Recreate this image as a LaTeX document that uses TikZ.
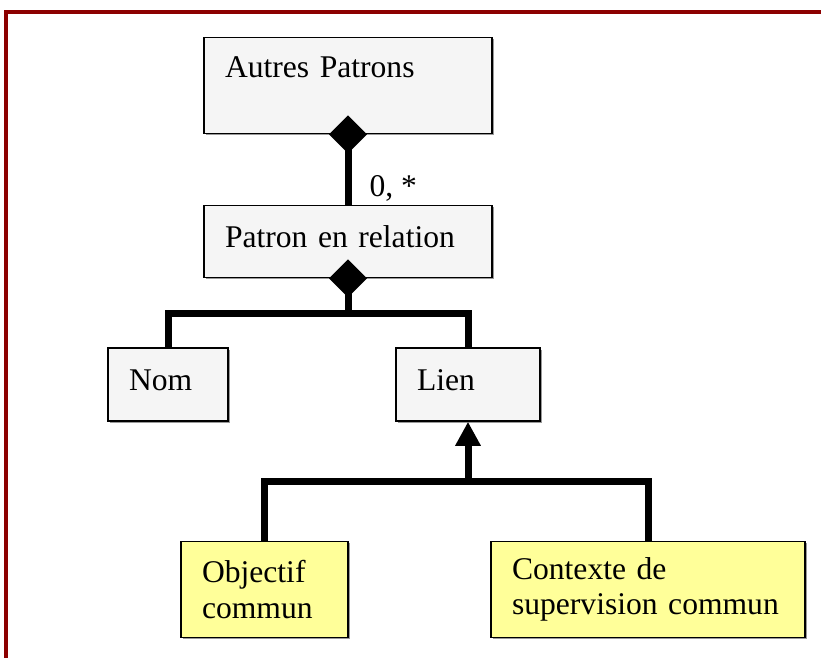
\documentclass[tikz,border=0pt]{standalone}
\usepackage{fontspec}
\setmainfont{Liberation Serif}
\definecolor{umlframe}{RGB}{140,0,0}
\definecolor{umlgray}{RGB}{245,245,245}
\definecolor{umlyellow}{RGB}{255,255,153}
\usetikzlibrary{arrows.meta,positioning,shadows}
\tikzset{
  umlbox/.style={rectangle,draw=black,line width=1.5pt,fill=#1,
                 drop shadow={shadow xshift=1.5pt,shadow yshift=-1.5pt,
                              fill=gray!80,opacity=1},
                 inner xsep=21pt,inner ysep=0pt,align=left,
                 font=\fontsize{31.6}{35.5}\selectfont},
  umlbox/.default=umlgray,
  comp/.style={line width=7pt,
               {Diamond[length=38pt,width=38pt]}-,shorten <=-19pt},
  gen/.style={line width=7pt,{Triangle[length=24pt,width=24pt]}-},
  link/.style={line width=7pt},
}
\begin{document}
\begin{tikzpicture}[x=1pt,y=-1pt]
  \useasboundingbox (0,0) rectangle (821,657);
  \draw[umlframe,line width=4pt] (6,660) -- (6,12) -- (824,12);

  % classes
  \node[umlbox,minimum width=288,minimum height=96,text width=246,
        text depth=36pt] (autres) at (348,85.5) {Autres Patrons};
  \node[umlbox,minimum width=288,minimum height=72,text width=246,
        text depth=10pt] (patron) at (348,241.5) {Patron en relation};
  \node[umlbox,minimum width=120,minimum height=73,text width=78,
        text depth=9pt] (nom) at (168,384.5) {Nom};
  \node[umlbox,minimum width=144,minimum height=73,text width=102,
        text depth=9pt] (lien) at (468,384.5) {Lien};
  \node[umlbox=umlyellow,minimum width=167,minimum height=96,text width=125]
        (objectif) at (264.5,589.5) {Objectif\\commun};
  \node[umlbox=umlyellow,minimum width=314,minimum height=96,text width=272]
        (contexte) at (648,589.5) {Contexte de\\supervision commun};

  % connectors
  \draw[comp] (autres.south) -- (patron.north)
    node[anchor=base west,inner sep=0pt,xshift=18pt,yshift=8pt,
         font=\fontsize{31.6}{35.5}\selectfont] (mult) {0, *};

  \coordinate (bus1) at (348,313);
  \draw[comp] (patron.south) -- (bus1);
  \draw[link] (nom.north) |- (bus1) -| (lien.north);

  \coordinate (bus2) at (468,481);
  \draw[gen] (lien.south) -- (bus2);
  \draw[link] (objectif.north) |- (bus2) -| (contexte.north);
\end{tikzpicture}
\end{document}
